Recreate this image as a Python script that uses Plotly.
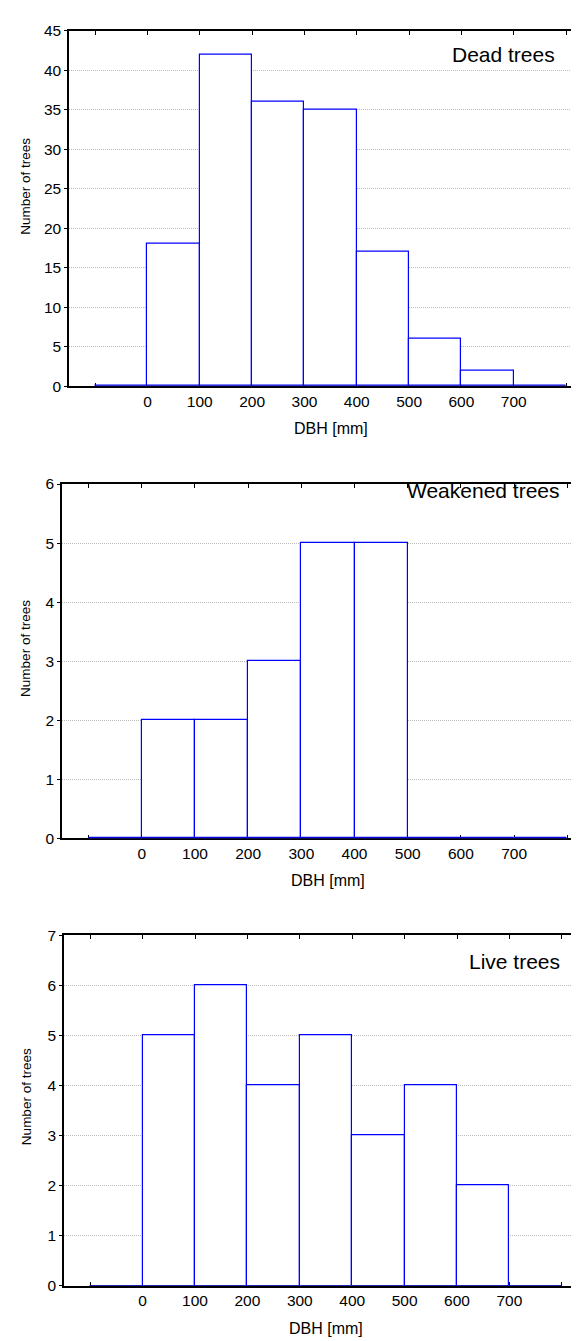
import plotly.graph_objects as go

bin_edges = [-100, 0, 100, 200, 300, 400, 500, 600, 700, 800]
tick_labels = ["", "0", "100", "200", "300", "400", "500", "600", "700", ""]
dead = [0, 18, 42, 36, 35, 17, 6, 2, 0]
weakened = [0, 2, 2, 3, 5, 5, 0, 0, 0]
live = [0, 5, 6, 4, 5, 3, 4, 2, 0]
panel_titles = ["Dead trees", "Weakened trees", "Live trees"]
y_max = [45, 6, 7]
y_step = [5, 1, 1]
x_title = "DBH [mm]"
y_title = "Number of trees"

W, H = 579, 1341
FONT = "Arial, Liberation Sans, sans-serif"
BLUE = "#0000ff"

# pixel geometry of each panel
panels = [
    dict(left=61, top=14, bottom=374, xmax=840, ytitle=172),
    dict(left=54, top=473, bottom=832, xmax=837, ytitle=640),
    dict(left=56, top=930, bottom=1285, xmax=848, ytitle=1094),
]
series = [dead, weakened, live]

centers = [(a + b) / 2 for a, b in zip(bin_edges[:-1], bin_edges[1:])]
widths = [b - a for a, b in zip(bin_edges[:-1], bin_edges[1:])]

fig = go.Figure()
layout = dict(
    width=W, height=H, margin=dict(l=0, r=0, t=0, b=0),
    paper_bgcolor="white", plot_bgcolor="white", showlegend=False,
    font=dict(family=FONT, size=15, color="black"),
    annotations=[], bargap=0,
)
for i, (p, vals) in enumerate(zip(panels, series)):
    n = "" if i == 0 else str(i + 1)
    xa, ya = "x" + n, "y" + n
    fig.add_trace(go.Bar(
        x=centers, y=vals, width=widths, xaxis=xa, yaxis=ya,
        marker=dict(color="white", line=dict(color=BLUE, width=1.2)),
        hoverinfo="skip",
    ))
    fig.add_trace(go.Scatter(
        x=[bin_edges[0], bin_edges[-1]], y=[0, 0], xaxis=xa, yaxis=ya,
        mode="lines", line=dict(color="#1a1a9a", width=1.5), cliponaxis=False,
        hoverinfo="skip",
    ))
    xd = [p["left"] / W, 1.0]
    yd = [1 - p["bottom"] / H, 1 - p["top"] / H]
    layout["xaxis" + n] = dict(
        domain=xd, range=[-150, p["xmax"]], anchor=ya,
        tickvals=bin_edges, ticktext=tick_labels,
        ticks="inside", ticklen=4, tickcolor="black", tickwidth=1,
        showline=True, linecolor="black", linewidth=1.5, mirror="ticks",
        showgrid=False, zeroline=False, layer="below traces",
        tickfont=dict(size=15.5), fixedrange=True,
    )
    layout["yaxis" + n] = dict(
        domain=yd, range=[0, y_max[i]], anchor=xa,
        tickvals=list(range(0, y_max[i] + 1, y_step[i])),
        ticks="outside", ticklen=3, tickcolor="black",
        showline=True, linecolor="black", linewidth=1.5,
        showgrid=True, gridcolor="#bdbdbd", griddash="1px,1px", gridwidth=1,
        zeroline=False, layer="below traces",
        tickfont=dict(size=15.5), fixedrange=True,
    )
    layout["annotations"].append(dict(
        xref="paper", yref="paper",
        x=(p["left"] + (350 + 150) / (p["xmax"] + 150) * (W - p["left"])) / W,
        y=1 - (p["bottom"] + 43) / H,
        text=x_title, showarrow=False, font=dict(size=16),
        xanchor="center", yanchor="middle",
    ))
    layout["annotations"].append(dict(
        xref="paper", yref="paper", x=18 / W,
        y=1 - p["ytitle"] / H,
        text=y_title, textangle=-90, showarrow=False, font=dict(size=13.5),
        xanchor="center", yanchor="middle",
    ))

title_pos = [(495, 38), (475, 480), (506, 957)]
for t, (tx, ty) in zip(panel_titles, title_pos):
    layout["annotations"].append(dict(
        xref="paper", yref="paper", x=tx / W, y=1 - ty / H,
        text=t, showarrow=False, font=dict(size=21),
        xanchor="center", yanchor="middle",
    ))

fig.update_layout(**layout)
fig.write_html("out.html")
